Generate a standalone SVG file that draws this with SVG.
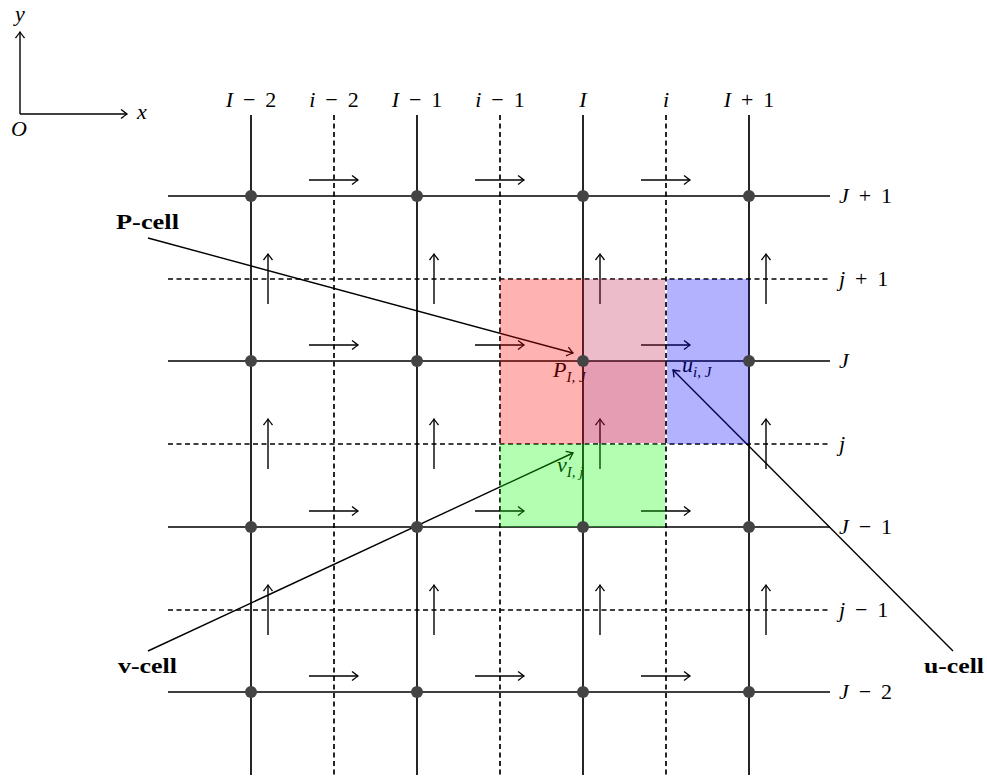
<svg xmlns="http://www.w3.org/2000/svg" width="987" height="776" viewBox="0 0 987 776">
<defs>
<marker id="ah" markerUnits="userSpaceOnUse" markerWidth="14" markerHeight="14" viewBox="-8 -7 10 14" refX="0" refY="0" orient="auto">
<path d="M-6,-4.5 Q-1.5,-1 0,0 Q-1.5,1 -6,4.5" fill="none" stroke="#000" stroke-width="1.3"/>
</marker>
<style>
.s{stroke:#000;stroke-width:1.7;fill:none}
.d{stroke:#000;stroke-width:1.7;fill:none;stroke-dasharray:5 3.5}
.a{stroke:#000;stroke-width:1.4;fill:none;marker-end:url(#ah)}
.c{stroke:#000;stroke-width:1.4;fill:none;marker-end:url(#ah)}
.dot{fill:#444}
.m{font-family:"Liberation Serif","DejaVu Serif",serif;font-style:italic;font-size:22px;fill:#000}
.n{font-family:"Liberation Serif","DejaVu Serif",serif;font-style:normal}
.b{font-family:"Liberation Serif","DejaVu Serif",serif;font-weight:bold;font-size:21px;fill:#000}
</style>
</defs>
<g id="axes">
<path class="a" d="M20,114 V32"/>
<path class="a" d="M20,114 H127"/>
<text class="m" x="20" y="21" text-anchor="middle">y</text>
<text class="m" x="142" y="119" text-anchor="middle">x</text>
<text class="m" x="19" y="136" text-anchor="middle">O</text>
</g>
<g id="grid">
<path class="s" d="M251,115V775M417,115V775M583,115V775M749,115V775"/>
<path class="d" d="M334,115V775M500,115V775M666,115V775"/>
<path class="s" d="M168,196H830M168,361H830M168,527H830M168,692H830"/>
<path class="d" d="M168,279H830M168,444H830M168,610H830"/>
</g>
<g id="col-labels" class="m" text-anchor="middle">
<text x="251" y="107">I&#160;<tspan class="n">&#8201;−&#160;&#8201;2</tspan></text>
<text x="334" y="107">i&#160;<tspan class="n">&#8201;−&#160;&#8201;2</tspan></text>
<text x="417" y="107">I&#160;<tspan class="n">&#8201;−&#160;&#8201;1</tspan></text>
<text x="500" y="107">i&#160;<tspan class="n">&#8201;−&#160;&#8201;1</tspan></text>
<text x="583" y="107">I</text>
<text x="666" y="107">i</text>
<text x="749" y="107">I&#160;<tspan class="n">&#8201;+&#160;&#8201;1</tspan></text>
</g>
<g id="row-labels" class="m">
<text x="839" y="203">J&#160;<tspan class="n">&#8201;+&#160;&#8201;1</tspan></text>
<text x="839" y="286">j&#160;<tspan class="n">&#8201;+&#160;&#8201;1</tspan></text>
<text x="839" y="368">J</text>
<text x="839" y="451">j</text>
<text x="839" y="534">J&#160;<tspan class="n">&#8201;−&#160;&#8201;1</tspan></text>
<text x="839" y="617">j&#160;<tspan class="n">&#8201;−&#160;&#8201;1</tspan></text>
<text x="839" y="699">J&#160;<tspan class="n">&#8201;−&#160;&#8201;2</tspan></text>
</g>
<g id="u-arrows">
<path class="a" d="M309,180H358"/><path class="a" d="M475,180H524"/><path class="a" d="M641,180H690"/>
<path class="a" d="M309,345H358"/><path class="a" d="M475,345H524"/><path class="a" d="M641,345H690"/>
<path class="a" d="M309,511H358"/><path class="a" d="M475,511H524"/><path class="a" d="M641,511H690"/>
<path class="a" d="M309,676H358"/><path class="a" d="M475,676H524"/><path class="a" d="M641,676H690"/>
</g>
<g id="v-arrows">
<path class="a" d="M268,304V254"/><path class="a" d="M434,304V254"/><path class="a" d="M600,304V254"/><path class="a" d="M766,304V254"/>
<path class="a" d="M268,469V419"/><path class="a" d="M434,469V419"/><path class="a" d="M600,469V419"/><path class="a" d="M766,469V419"/>
<path class="a" d="M268,635V585"/><path class="a" d="M434,635V585"/><path class="a" d="M600,635V585"/><path class="a" d="M766,635V585"/>
</g>
<g id="cell-labels" class="m">
<text x="553" y="377">P<tspan font-size="15" dy="5">I, J</tspan></text>
<text x="682" y="372">u<tspan font-size="15" dy="5">i, J</tspan></text>
<text x="557" y="472">v<tspan font-size="15" dy="5">I, j</tspan></text>
</g>
<g id="connectors">
<path class="c" d="M148,238L573,353"/>
<path class="c" d="M148,651L573,453"/>
<path class="c" d="M953,651L673,370"/>
</g>
<g id="callouts">
<text class="b" x="116" y="229" textLength="63" lengthAdjust="spacingAndGlyphs">P-cell</text>
<text class="b" x="118" y="673" textLength="59" lengthAdjust="spacingAndGlyphs">v-cell</text>
<text class="b" x="924" y="673" textLength="60" lengthAdjust="spacingAndGlyphs">u-cell</text>
</g>
<g id="cells">
<rect x="500" y="279" width="83" height="165" fill="#ff0000" fill-opacity="0.3"/>
<rect x="583" y="279" width="82" height="82" fill="#c02052" fill-opacity="0.3"/>
<rect x="583" y="361" width="82" height="82" fill="#be0a41" fill-opacity="0.4"/>
<rect x="667" y="279" width="82" height="165" fill="#0000ff" fill-opacity="0.3"/>
<rect x="500" y="444" width="165" height="83" fill="#00ff00" fill-opacity="0.3"/>
</g>
<g id="nodes">
<circle class="dot" cx="251" cy="196" r="6"/><circle class="dot" cx="417" cy="196" r="6"/><circle class="dot" cx="583" cy="196" r="6"/><circle class="dot" cx="749" cy="196" r="6"/>
<circle class="dot" cx="251" cy="361" r="6"/><circle class="dot" cx="417" cy="361" r="6"/><circle class="dot" cx="583" cy="361" r="6"/><circle class="dot" cx="749" cy="361" r="6"/>
<circle class="dot" cx="251" cy="527" r="6"/><circle class="dot" cx="417" cy="527" r="6"/><circle class="dot" cx="583" cy="527" r="6"/><circle class="dot" cx="749" cy="527" r="6"/>
<circle class="dot" cx="251" cy="692" r="6"/><circle class="dot" cx="417" cy="692" r="6"/><circle class="dot" cx="583" cy="692" r="6"/><circle class="dot" cx="749" cy="692" r="6"/>
</g>
</svg>
